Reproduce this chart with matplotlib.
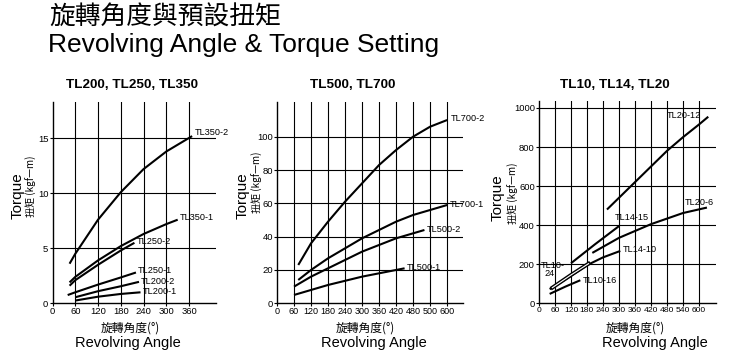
import matplotlib
matplotlib.use('Agg')
import matplotlib.pyplot as plt

plt.rcParams['font.family'] = ['Liberation Sans', 'DejaVu Sans']
CJK = ['Noto Sans CJK TC', 'DejaVu Sans']

# ---- panel 1 : TL200, TL250, TL350 ----
ang_350_2 = [45, 60, 120, 180, 240, 300, 368]
tq_350_2 = [3.6, 4.5, 7.6, 10.1, 12.2, 13.8, 15.2]
ang_350_1 = [45, 60, 120, 180, 240, 300, 330]
tq_350_1 = [1.9, 2.4, 3.9, 5.2, 6.3, 7.2, 7.6]
ang_250_2 = [45, 60, 120, 180, 216]
tq_250_2 = [1.6, 2.1, 3.5, 4.8, 5.5]
ang_250_1 = [40, 60, 120, 180, 220]
tq_250_1 = [0.75, 1.0, 1.7, 2.35, 2.8]
ang_200_2 = [60, 120, 180, 228]
tq_200_2 = [0.55, 1.1, 1.55, 1.95]
ang_200_1 = [60, 120, 180, 232]
tq_200_1 = [0.25, 0.6, 0.85, 1.0]

# ---- panel 2 : TL500, TL700 ----
ang_700_2 = [75, 120, 180, 240, 300, 360, 420, 480, 540, 600]
tq_700_2 = [23, 36, 49, 61, 72, 83, 92, 100, 106, 110]
ang_700_1 = [75, 120, 180, 240, 300, 360, 420, 480, 540, 600]
tq_700_1 = [14, 20, 27, 33, 39, 44, 49, 53, 56, 59]
ang_500_2 = [60, 120, 180, 240, 300, 360, 420, 480, 520]
tq_500_2 = [10, 16, 21, 26, 31, 35, 39, 42, 44]
ang_500_1 = [60, 120, 180, 240, 300, 360, 420, 450]
tq_500_1 = [5, 8, 11, 13.5, 16, 18, 20, 21]

# ---- panel 3 : TL10, TL14, TL20 ----
ang_20_12 = [255, 360, 480, 540, 600, 635]
tq_20_12 = [480, 620, 780, 850, 915, 955]
ang_20_6 = [200, 300, 420, 540, 630]
tq_20_6 = [258, 335, 405, 462, 490]
ang_14_15 = [120, 210, 300]
tq_14_15 = [205, 302, 395]
ang_14_10 = [40, 120, 180, 240, 305]
tq_14_10 = [72, 140, 195, 235, 268]
ang_10_24 = [50, 120, 186]
tq_10_24 = [80, 145, 203]
ang_10_16 = [40, 100, 155]
tq_10_16 = [48, 86, 118]

x1_ticks = [0, 60, 120, 180, 240, 300, 360]
x1_labels = ['0', '60', '120', '180', '240', '300', '360']
y1_ticks = [0, 5, 10, 15]
x2_ticks = [0, 60, 120, 180, 240, 300, 360, 420, 480, 540, 600]
x2_labels = ['0', '60', '120', '180', '240', '300', '360', '420', '480', '500', '600']
y2_ticks = [0, 20, 40, 60, 80, 100]
x3_ticks = [0, 60, 120, 180, 240, 300, 360, 420, 480, 540, 600]
x3_labels = ['0', '60', '120', '180', '240', '300', '360', '420', '480', '540', '600']
y3_ticks = [0, 200, 400, 600, 800, 1000]

W, H = 732, 354
fig = plt.figure(figsize=(W / 100, H / 100), dpi=100)
fig.patch.set_facecolor('white')


def panel(left, right, top, xlim, ylim, xt, xl, yt, xsize=6.8):
    bottom = 303.3
    ax = fig.add_axes([left / W, 1 - bottom / H, (right - left) / W, (bottom - top) / H])
    ax.set_xlim(*xlim)
    ax.set_ylim(*ylim)
    for s in ['top', 'right']:
        ax.spines[s].set_visible(False)
    for s in ['left', 'bottom']:
        ax.spines[s].set_linewidth(1.0)
    ax.set_xticks(xt)
    ax.set_xticklabels(xl)
    ax.set_yticks(yt)
    ax.tick_params(labelsize=6.8, length=2, width=0.8, pad=1)
    ax.tick_params(axis='x', labelsize=xsize)
    for v in xt[1:]:
        ax.axvline(v, color='black', lw=0.8, zorder=1)
    for v in yt[1:]:
        ax.axhline(v, color='black', lw=0.8, zorder=1)
    return ax


def curve(ax, x, y):
    ax.plot(x, y, color='black', lw=1.5, solid_capstyle='butt', zorder=3)


lab = dict(fontsize=6.6, va='center', ha='left')

# panel 1
ax1 = panel(52.5, 216, 102, (0, 431), (0, 18.3), x1_ticks, x1_labels, y1_ticks)
curve(ax1, ang_350_2, tq_350_2)
curve(ax1, ang_350_1, tq_350_1)
curve(ax1, ang_250_2, tq_250_2)
curve(ax1, ang_250_1, tq_250_1)
curve(ax1, ang_200_2, tq_200_2)
curve(ax1, ang_200_1, tq_200_1)
ax1.text(374, 15.5, 'TL350-2', **lab)
ax1.text(336, 7.8, 'TL350-1', **lab)
ax1.text(222, 5.6, 'TL250-2', **lab)
ax1.text(226, 2.95, 'TL250-1', **lab)
ax1.text(234, 2.0, 'TL200-2', **lab)
ax1.text(238, 1.05, 'TL200-1', **lab)

# panel 2
ax2 = panel(277, 463, 101.7, (0, 656), (0, 121), x2_ticks, x2_labels, y2_ticks, 6.5)
curve(ax2, ang_700_2, tq_700_2)
curve(ax2, ang_700_1, tq_700_1)
curve(ax2, ang_500_2, tq_500_2)
curve(ax2, ang_500_1, tq_500_1)
ax2.text(612, 111, 'TL700-2', **lab)
ax2.text(610, 59.5, 'TL700-1', **lab)
ax2.text(528, 44.5, 'TL500-2', **lab)
ax2.text(458, 21.3, 'TL500-1', **lab)

# panel 3
ax3 = panel(539, 716, 100.7, (0, 664), (0, 1037), x3_ticks, x3_labels, y3_ticks, 6.1)
curve(ax3, ang_20_12, tq_20_12)
curve(ax3, ang_20_6, tq_20_6)
curve(ax3, ang_14_15, tq_14_15)
curve(ax3, ang_14_10, tq_14_10)
ax3.plot(ang_10_24, tq_10_24, color='black', lw=2.8, zorder=3)
ax3.plot(ang_10_24, tq_10_24, color='white', lw=0.8, zorder=4)
curve(ax3, ang_10_16, tq_10_16)
ax3.text(478, 962, 'TL20-12', **lab)
ax3.text(546, 515, 'TL20-6', **lab)
ax3.text(283, 438, 'TL14-15', **lab)
ax3.text(314, 273, 'TL14-10', **lab)
ax3.text(163, 116, 'TL10-16', **lab)
ax3.text(8, 196, 'TL10-', **lab)
ax3.text(22, 150, '24', **lab)

# panel titles
for cx, t in [(132, 'TL200, TL250, TL350'), (353, 'TL500, TL700'), (615, 'TL10, TL14, TL20')]:
    fig.text(cx / W, 1 - 85 / H, t, fontsize=9.7, fontweight='bold', ha='center', va='center')

# y labels
for tx, ty, cx, cy in [(18, 196, 31, 186), (243, 196, 257, 182), (498, 198, 513, 193)]:
    fig.text(tx / W, 1 - ty / H, 'Torque', fontsize=11, rotation=90, ha='center', va='center')
    fig.text(cx / W, 1 - cy / H, '扭矩 (kgf—m)', family=CJK, fontsize=7.2, rotation=90,
             ha='center', va='center')

# x labels
for c1, c2 in [(130, 128), (365, 374), (635, 655)]:
    fig.text(c1 / W, 1 - 328 / H, '旋轉角度(°)', family=CJK, fontsize=8.5, ha='center', va='center')
    fig.text(c2 / W, 1 - 343 / H, 'Revolving Angle', fontsize=10.5, ha='center', va='center')

# main title
fig.text(49 / W, 1 - 18 / H, '旋轉角度與預設扭矩', family=CJK, fontsize=18.5, ha='left', va='center')
fig.text(48 / W, 1 - 45 / H, 'Revolving Angle & Torque Setting', fontsize=19, ha='left', va='center')

fig.savefig('out.png', dpi=100)
